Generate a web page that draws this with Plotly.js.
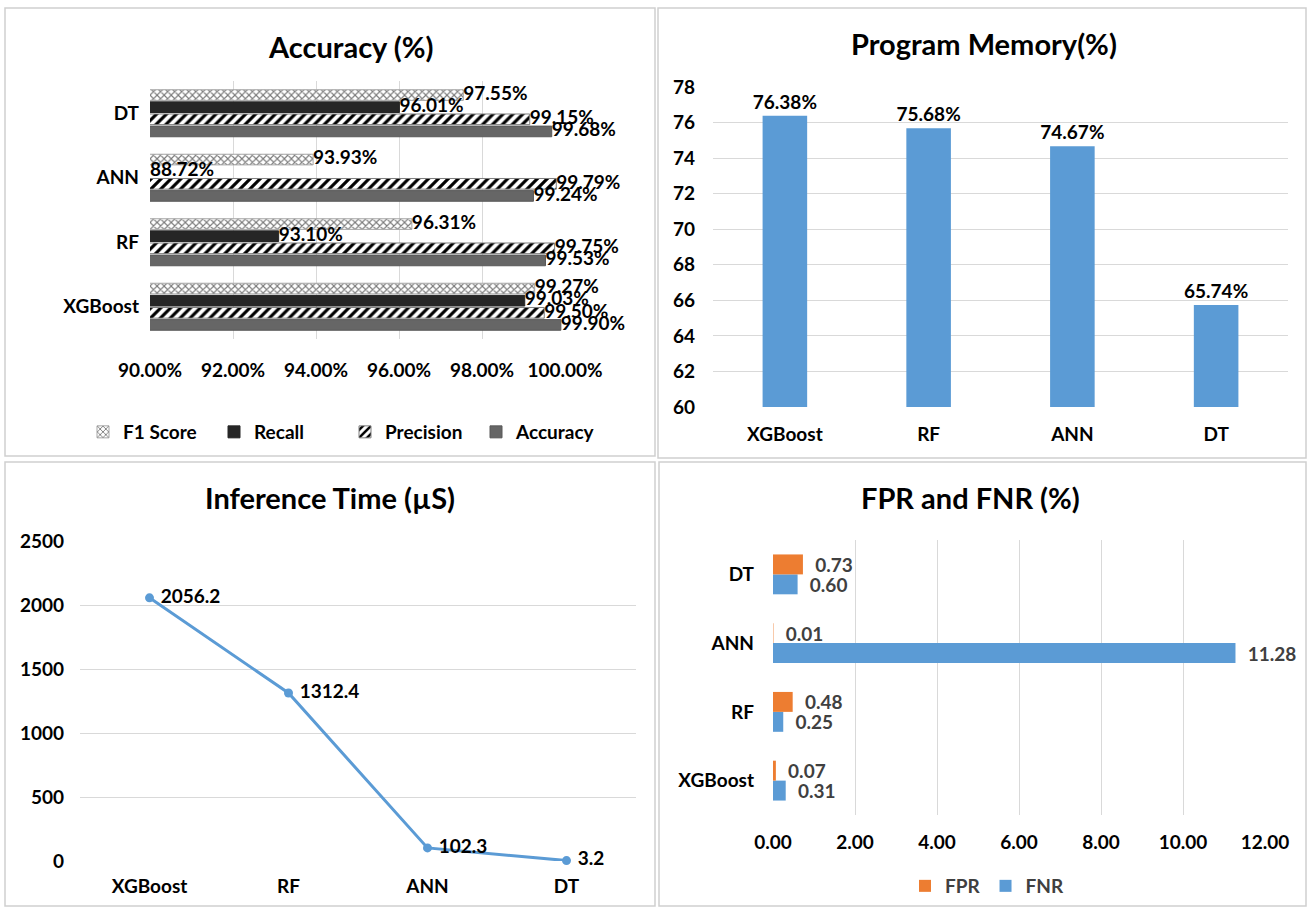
<!DOCTYPE html>
<html><head><meta charset="utf-8">
<script src="https://cdn.plot.ly/plotly-3.0.1.min.js"></script>
<style>html,body{margin:0;padding:0;background:#fff}#chart{width:1309px;height:907px}</style>
</head><body><div id="chart"></div>
<script>
// ---- data ----
const models = ['XGBoost', 'RF', 'ANN', 'DT'];
const accuracy = [99.90, 99.53, 99.24, 99.68];
const precision = [99.50, 99.75, 99.79, 99.15];
const recall = [99.03, 93.10, 88.72, 96.01];
const f1Score = [99.27, 96.31, 93.93, 97.55];
const accTicks = [90, 92, 94, 96, 98, 100];
const programMemory = [76.38, 75.68, 74.67, 65.74];
const inferenceTime = [2056.2, 1312.4, 102.3, 3.2];
const fpr = [0.07, 0.48, 0.01, 0.73];
const fnr = [0.31, 0.25, 11.28, 0.60];

// ---- helpers ----
const W = 1309, H = 907;
const PX = p => p / W;
const PY = p => 1 - p / H;
const FONT = "Lato, 'Open Sans', sans-serif";
const bold = (size, color) => ({family: FONT, size: size, color: color || '#000', weight: 'bold'});
const GRID = '#d9d9d9';
const NB = '\u00a0';

const traces = [];

// ---- Panel 1: Accuracy (horizontal grouped bars, numeric y by category index) ----
const accSeries = [
  {name: 'Accuracy', vals: accuracy, marker: {color: '#666666', line: {color: '#595959', width: 1}}},
  {name: 'Precision', vals: precision, marker: {color: '#ffffff', pattern: {shape: '/', fgcolor: '#000000', bgcolor: '#ffffff', size: 7, solidity: 0.45}, line: {color: '#7f7f7f', width: 1}}},
  {name: 'Recall', vals: recall, marker: {color: '#262626', line: {color: '#262626', width: 1}}},
  {name: 'F1 Score', vals: f1Score, marker: {color: '#ffffff', pattern: {shape: 'x', fgcolor: '#7a7a7a', bgcolor: '#ffffff', size: 5, solidity: 0.4}, line: {color: '#a6a6a6', width: 1}}}
];
const pitch = 0.188, thick = 0.165;
accSeries.forEach((s, j) => {
  const ys = models.map((m, i) => i + (j - 1.5) * pitch);
  traces.push({
    type: 'bar', orientation: 'h', name: s.name, x: s.vals, y: ys, width: thick,
    marker: s.marker, xaxis: 'x', yaxis: 'y', legend: 'legend', hoverinfo: 'x+name'
  });
  traces.push({
    type: 'scatter', mode: 'text', x: s.vals.map(v => Math.max(v, accTicks[0])), y: ys,
    text: s.vals.map(v => v.toFixed(2) + '%'), textposition: 'middle right',
    textfont: bold(19), cliponaxis: false, showlegend: false, hoverinfo: 'skip',
    xaxis: 'x', yaxis: 'y'
  });
});

// ---- Panel 2: Program Memory ----
traces.push({
  type: 'bar', x: models, y: programMemory, width: 0.31, marker: {color: '#5B9BD5'},
  text: programMemory.map(v => v.toFixed(2) + '%'), textposition: 'outside', cliponaxis: false,
  constraintext: 'none', textfont: bold(19), showlegend: false, xaxis: 'x2', yaxis: 'y2'
});

// ---- Panel 3: Inference Time ----
traces.push({
  type: 'scatter', mode: 'lines+markers+text', x: models, y: inferenceTime,
  line: {color: '#5B9BD5', width: 3}, marker: {color: '#5B9BD5', size: 9},
  text: inferenceTime.map(v => NB + v.toFixed(1)), textposition: 'middle right',
  textfont: bold(19), cliponaxis: false, showlegend: false, xaxis: 'x3', yaxis: 'y3'
});

// ---- Panel 4: FPR and FNR ----
traces.push({
  type: 'bar', orientation: 'h', name: 'FNR', x: fnr, y: models, width: 0.29, offset: -0.29,
  marker: {color: '#5B9BD5'}, text: fnr.map(v => NB + NB + v.toFixed(2)), textposition: 'outside',
  constraintext: 'none', cliponaxis: false, textfont: bold(19, '#404040'), xaxis: 'x4', yaxis: 'y4', legend: 'legend2'
});
traces.push({
  type: 'bar', orientation: 'h', name: 'FPR', x: fpr, y: models, width: 0.29, offset: 0,
  marker: {color: '#ED7D31'}, text: fpr.map(v => NB + NB + v.toFixed(2)), textposition: 'outside',
  constraintext: 'none', cliponaxis: false, textfont: bold(19, '#404040'), xaxis: 'x4', yaxis: 'y4', legend: 'legend2'
});

const tf = bold(19);
const layout = {
  width: W, height: H, margin: {l: 0, r: 0, t: 0, b: 0},
  paper_bgcolor: '#ffffff', plot_bgcolor: 'rgba(0,0,0,0)',
  barmode: 'overlay', font: {family: FONT, weight: 'bold', color: '#000'},
  // panel 1
  xaxis: {domain: [PX(150), PX(565)], anchor: 'y', range: [90, 100], tickvals: accTicks,
    ticktext: accTicks.map(v => v.toFixed(2) + '%'), showgrid: true, gridcolor: GRID, zeroline: false,
    showline: false, ticks: '', tickfont: tf, ticklabelstandoff: 18, fixedrange: true},
  yaxis: {domain: [PY(339), PY(81)], anchor: 'x', range: [-0.5, 3.5], tickvals: [0, 1, 2, 3], ticktext: models,
    showgrid: false, zeroline: false, showline: false, ticks: '', tickfont: tf, ticklabelstandoff: 10},
  // panel 2
  xaxis2: {domain: [PX(713), PX(1288)], anchor: 'y2', type: 'category', range: [-0.5, 3.5], showgrid: false, showline: false,
    ticks: '', tickfont: tf, ticklabelstandoff: 14},
  yaxis2: {domain: [PY(407), PY(87)], anchor: 'x2', range: [60, 78], dtick: 2, showgrid: true, gridcolor: GRID,
    zeroline: false, showline: false, ticks: '', tickfont: tf, ticklabelstandoff: 17},
  // panel 3
  xaxis3: {domain: [PX(80), PX(636)], anchor: 'y3', type: 'category', range: [-0.5, 3.5], showgrid: false, showline: false,
    ticks: '', tickfont: tf, ticklabelstandoff: 12},
  yaxis3: {domain: [PY(861), PY(541)], anchor: 'x3', range: [0, 2500], dtick: 500, showgrid: true, gridcolor: GRID,
    zeroline: false, showline: false, ticks: '', tickfont: tf, ticklabelstandoff: 15},
  // panel 4
  xaxis4: {domain: [PX(773), PX(1265)], anchor: 'y4', range: [0, 12], dtick: 2, tickformat: '.2f',
    showgrid: true, gridcolor: GRID, zeroline: false, showline: false, ticks: '', tickfont: tf, ticklabelstandoff: 14},
  yaxis4: {domain: [PY(815), PY(540)], anchor: 'x4', type: 'category', range: [-0.5, 3.5], showgrid: false, zeroline: false,
    showline: false, ticks: '', tickfont: tf, ticklabelstandoff: 18},
  legend: {orientation: 'h', x: PX(345), y: PY(432), xanchor: 'center', yanchor: 'middle',
    traceorder: 'reversed', font: bold(19), bgcolor: 'rgba(0,0,0,0)', entrywidth: 86, itemwidth: 30},
  legend2: {orientation: 'h', x: PX(987), y: PY(886), xanchor: 'center', yanchor: 'middle',
    traceorder: 'reversed', font: bold(19, '#404040'), bgcolor: 'rgba(0,0,0,0)', itemwidth: 30},
  annotations: [
    {text: 'Accuracy (%)', x: PX(350), y: PY(47)},
    {text: 'Program Memory(%)', x: PX(984), y: PY(43)},
    {text: 'Inference Time (µS)', x: PX(330), y: PY(497)},
    {text: 'FPR and FNR (%)', x: PX(970), y: PY(497)}
  ].map(a => Object.assign(a, {xref: 'paper', yref: 'paper', showarrow: false, xanchor: 'center',
    yanchor: 'middle', font: bold(29)})),
  shapes: [
    [5, 8, 655, 456], [658, 8, 1306, 458], [5, 462, 655, 906], [659, 462, 1306, 906]
  ].map(r => ({type: 'rect', xref: 'paper', yref: 'paper', x0: PX(r[0]), x1: PX(r[2]), y0: PY(r[3]), y1: PY(r[1]),
    line: {color: '#d0d0d0', width: 1.5}, fillcolor: 'rgba(0,0,0,0)', layer: 'below'}))
};

Plotly.newPlot('chart', traces, layout, {displayModeBar: false, staticPlot: true});
</script>
</body></html>
